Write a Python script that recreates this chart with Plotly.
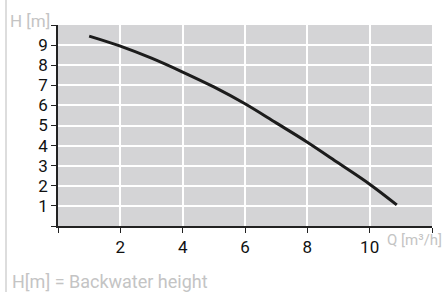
import plotly.graph_objects as go

# Data
flow_q = [1.0, 2.0, 3.0, 4.0, 5.0, 6.0, 7.0, 8.0, 9.0, 10.0, 10.87]
head_h = [9.45, 8.95, 8.35, 7.66, 6.92, 6.08, 5.13, 4.17, 3.13, 2.08, 1.05]

x_tickvals = [0, 2, 4, 6, 8, 10, 12]
x_ticktext = ["", "2", "4", "6", "8", "10", ""]
y_tickvals = [0, 1, 2, 3, 4, 5, 6, 7, 8, 9, 10]
y_ticktext = ["", "1", "2", "3", "4", "5", "6", "7", "8", "9", ""]

FONT = "Roboto, sans-serif"

fig = go.Figure()
fig.add_trace(go.Scatter(
    x=flow_q, y=head_h, mode="lines",
    line=dict(color="#1c1c1c", width=3, shape="spline", smoothing=1.0),
    hoverinfo="skip", showlegend=False,
))

axis_common = dict(
    showline=True, linecolor="#222222", linewidth=1.5,
    ticks="outside", ticklen=5, tickwidth=1.2, tickcolor="#222222",
    showgrid=True, gridcolor="#ffffff", gridwidth=1.5,
    zeroline=False, tickfont=dict(family=FONT, size=17, color="#111111"),
    fixedrange=True,
)

fig.update_layout(
    width=446, height=292,
    margin=dict(l=58, r=14, t=25, b=66),
    paper_bgcolor="#ffffff", plot_bgcolor="#d4d4d6",
    xaxis=dict(range=[0, 12], tickvals=x_tickvals, ticktext=x_ticktext, **axis_common),
    yaxis=dict(range=[0, 10], tickvals=y_tickvals, ticktext=y_ticktext, **axis_common),
    font=dict(family=FONT),
    shapes=[dict(type="line", xref="paper", yref="paper",
                 x0=-52/374, x1=-52/374, y0=-66/201, y1=25/201 + 1,
                 line=dict(color="#dddddd", width=2))],
    annotations=[
        dict(text="H [m]", xref="paper", yref="paper", x=-6/374, y=1 + 4/201,
             xanchor="right", yanchor="middle", showarrow=False,
             font=dict(family=FONT, size=17, color="#c4c4c4")),
        dict(text="Q [m³/h]", xref="paper", yref="paper", x=1 - 47/374, y=-14/201,
             xanchor="left", yanchor="middle", showarrow=False,
             font=dict(family=FONT, size=15, color="#c4c4c4")),
        dict(text="H[m] = Backwater height", xref="paper", yref="paper", x=-48/374, y=-55/201,
             xanchor="left", yanchor="middle", showarrow=False,
             font=dict(family=FONT, size=18, color="#c4c4c4")),
    ],
)

fig.write_html("out.html", config={"displayModeBar": False},
               post_script="document.body.style.margin='0px';document.body.style.overflow='hidden';")
